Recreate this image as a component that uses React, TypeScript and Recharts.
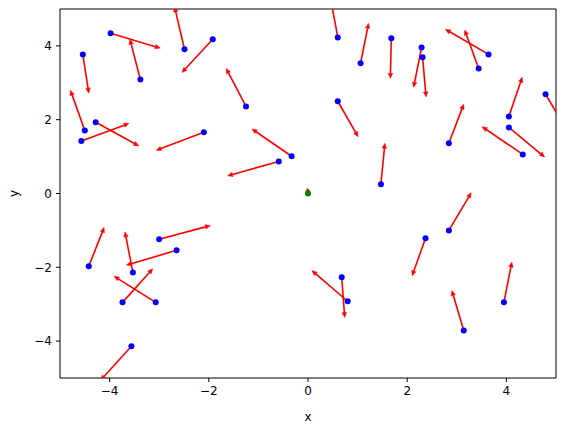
import { ScatterChart, Scatter, XAxis, YAxis, ReferenceLine, ReferenceArea } from 'recharts';

// particle positions
const xs = [-3.98, -3.38, -4.54, -2.49, -1.92, -1.25, -4.5, -4.28, -4.57, -2.1, -0.59, -0.33, 1.47, 0.6, 0.6, 1.06, 1.68, 2.29, 2.31, 3.64, 3.44, 4.79, 4.05, 4.05, 4.33, 2.84, 2.84, 2.37, 3.14, 3.95, 0.68, 0.8, -4.42, -3.53, -3.0, -2.65, -3.74, -3.07, -3.56];
const ys = [4.34, 3.09, 3.77, 3.91, 4.18, 2.36, 1.71, 1.93, 1.42, 1.66, 0.87, 1.01, 0.25, 2.5, 4.23, 3.53, 4.21, 3.96, 3.69, 3.77, 3.39, 2.69, 2.09, 1.79, 1.06, 1.36, -1.0, -1.21, -3.71, -2.95, -2.27, -2.92, -1.97, -2.14, -1.24, -1.54, -2.95, -2.95, -4.14];
// velocity arrows
const dxs = [1.0, -0.21, 0.12, -0.2, -0.62, -0.4, -0.29, 0.87, 0.96, -0.96, -1.03, -0.8, 0.08, 0.41, -0.15, 0.16, -0.02, -0.16, 0.07, -0.87, -0.28, 0.44, 0.27, 0.72, -0.82, 0.3, 0.45, -0.27, -0.24, 0.16, 0.06, -0.72, 0.31, -0.16, 1.03, -1.01, 0.61, -0.84, -0.62];
const dys = [-0.4, 1.09, -1.05, 1.15, -0.9, 1.03, 1.09, -0.64, 0.48, -0.49, -0.39, 0.74, 1.11, -0.96, 1.1, 1.08, -1.09, -1.08, -1.07, 0.68, 1.04, -1.0, 1.06, -0.8, 0.75, 1.06, 1.02, -1.02, 1.08, 1.09, -1.09, 0.83, 1.05, 1.1, 0.37, -0.4, 0.91, 0.71, -0.92];

// the green one at the centre
const centerX = [0];
const centerY = [0];
const centerDx = [-0.01];
const centerDy = [0.14];

const ticks = [-4, -2, 0, 2, 4];

const points = xs.map((x, i) => ({ x, y: ys[i] }));
const center = centerX.map((x, i) => ({ x, y: centerY[i] }));
const arrows = [
    ...xs.map((x, i) => ({ x, y: ys[i], dx: dxs[i], dy: dys[i] })),
    ...centerX.map((x, i) => ({ x, y: centerY[i], dx: centerDx[i], dy: centerDy[i] })),
];

const font = { fontFamily: 'DejaVu Sans', fontSize: 12, fill: '#000' };
const minus = (v: number) => String(v).replace('-', '\u2212');

const Arrow = (p: any) => {
    const { x1, y1, x2, y2, clipPath } = p;
    const len = Math.hypot(x2 - x1, y2 - y1) || 1;
    const ux = (x2 - x1) / len;
    const uy = (y2 - y1) / len;
    const hl = Math.min(5, len * 0.6);
    const hw = 2.2;
    const bx = x2 - ux * hl;
    const by = y2 - uy * hl;
    return (
        <g clipPath={clipPath}>
            <line x1={x1} y1={y1} x2={bx} y2={by} stroke="#ff0000" strokeWidth={1.6} />
            <polygon
                points={`${x2},${y2} ${bx - uy * hw},${by + ux * hw} ${bx + uy * hw},${by - ux * hw}`}
                fill="#ff0000"
                stroke="#ff0000"
                strokeWidth={0.5}
            />
        </g>
    );
};

const Dot = (color: string) => (p: any) => <circle cx={p.cx} cy={p.cy} r={3} fill={color} />;

export default function App() {
    return (
        <div style={{ position: 'absolute', left: 0, top: 0 }}>
            <ScatterChart width={565} height={432} margin={{ top: 9, right: 9, bottom: 0, left: 0 }}>
                <XAxis
                    type="number"
                    dataKey="x"
                    domain={[-5, 5]}
                    ticks={ticks}
                    allowDataOverflow
                    height={54}
                    tickSize={4}
                    tickMargin={4}
                    tick={font}
                    tickLine={{ stroke: '#000' }}
                    axisLine={false}
                    tickFormatter={minus}
                    label={{ value: 'x', position: 'insideBottom', offset: 11, style: font }}
                />
                <YAxis
                    type="number"
                    dataKey="y"
                    domain={[-5, 5]}
                    ticks={ticks}
                    allowDataOverflow
                    width={60}
                    tickSize={4}
                    tickMargin={4}
                    tick={font}
                    tickLine={{ stroke: '#000' }}
                    axisLine={false}
                    tickFormatter={minus}
                    label={{ value: 'y', angle: -90, position: 'insideLeft', offset: 14, style: { ...font, textAnchor: 'middle' } }}
                />
                <ReferenceArea x1={-5} x2={5} y1={-5} y2={5} fill="none" stroke="#000" strokeWidth={1} fillOpacity={0} />
                {arrows.map((a, i) => (
                    <ReferenceLine
                        key={i}
                        segment={[{ x: a.x, y: a.y }, { x: a.x + a.dx, y: a.y + a.dy }]}
                        ifOverflow="hidden"
                        shape={Arrow}
                    />
                ))}
                <Scatter data={points} shape={Dot('#0000ff')} isAnimationActive={false} />
                <Scatter data={center} shape={Dot('#008000')} isAnimationActive={false} />
            </ScatterChart>
        </div>
    );
}
